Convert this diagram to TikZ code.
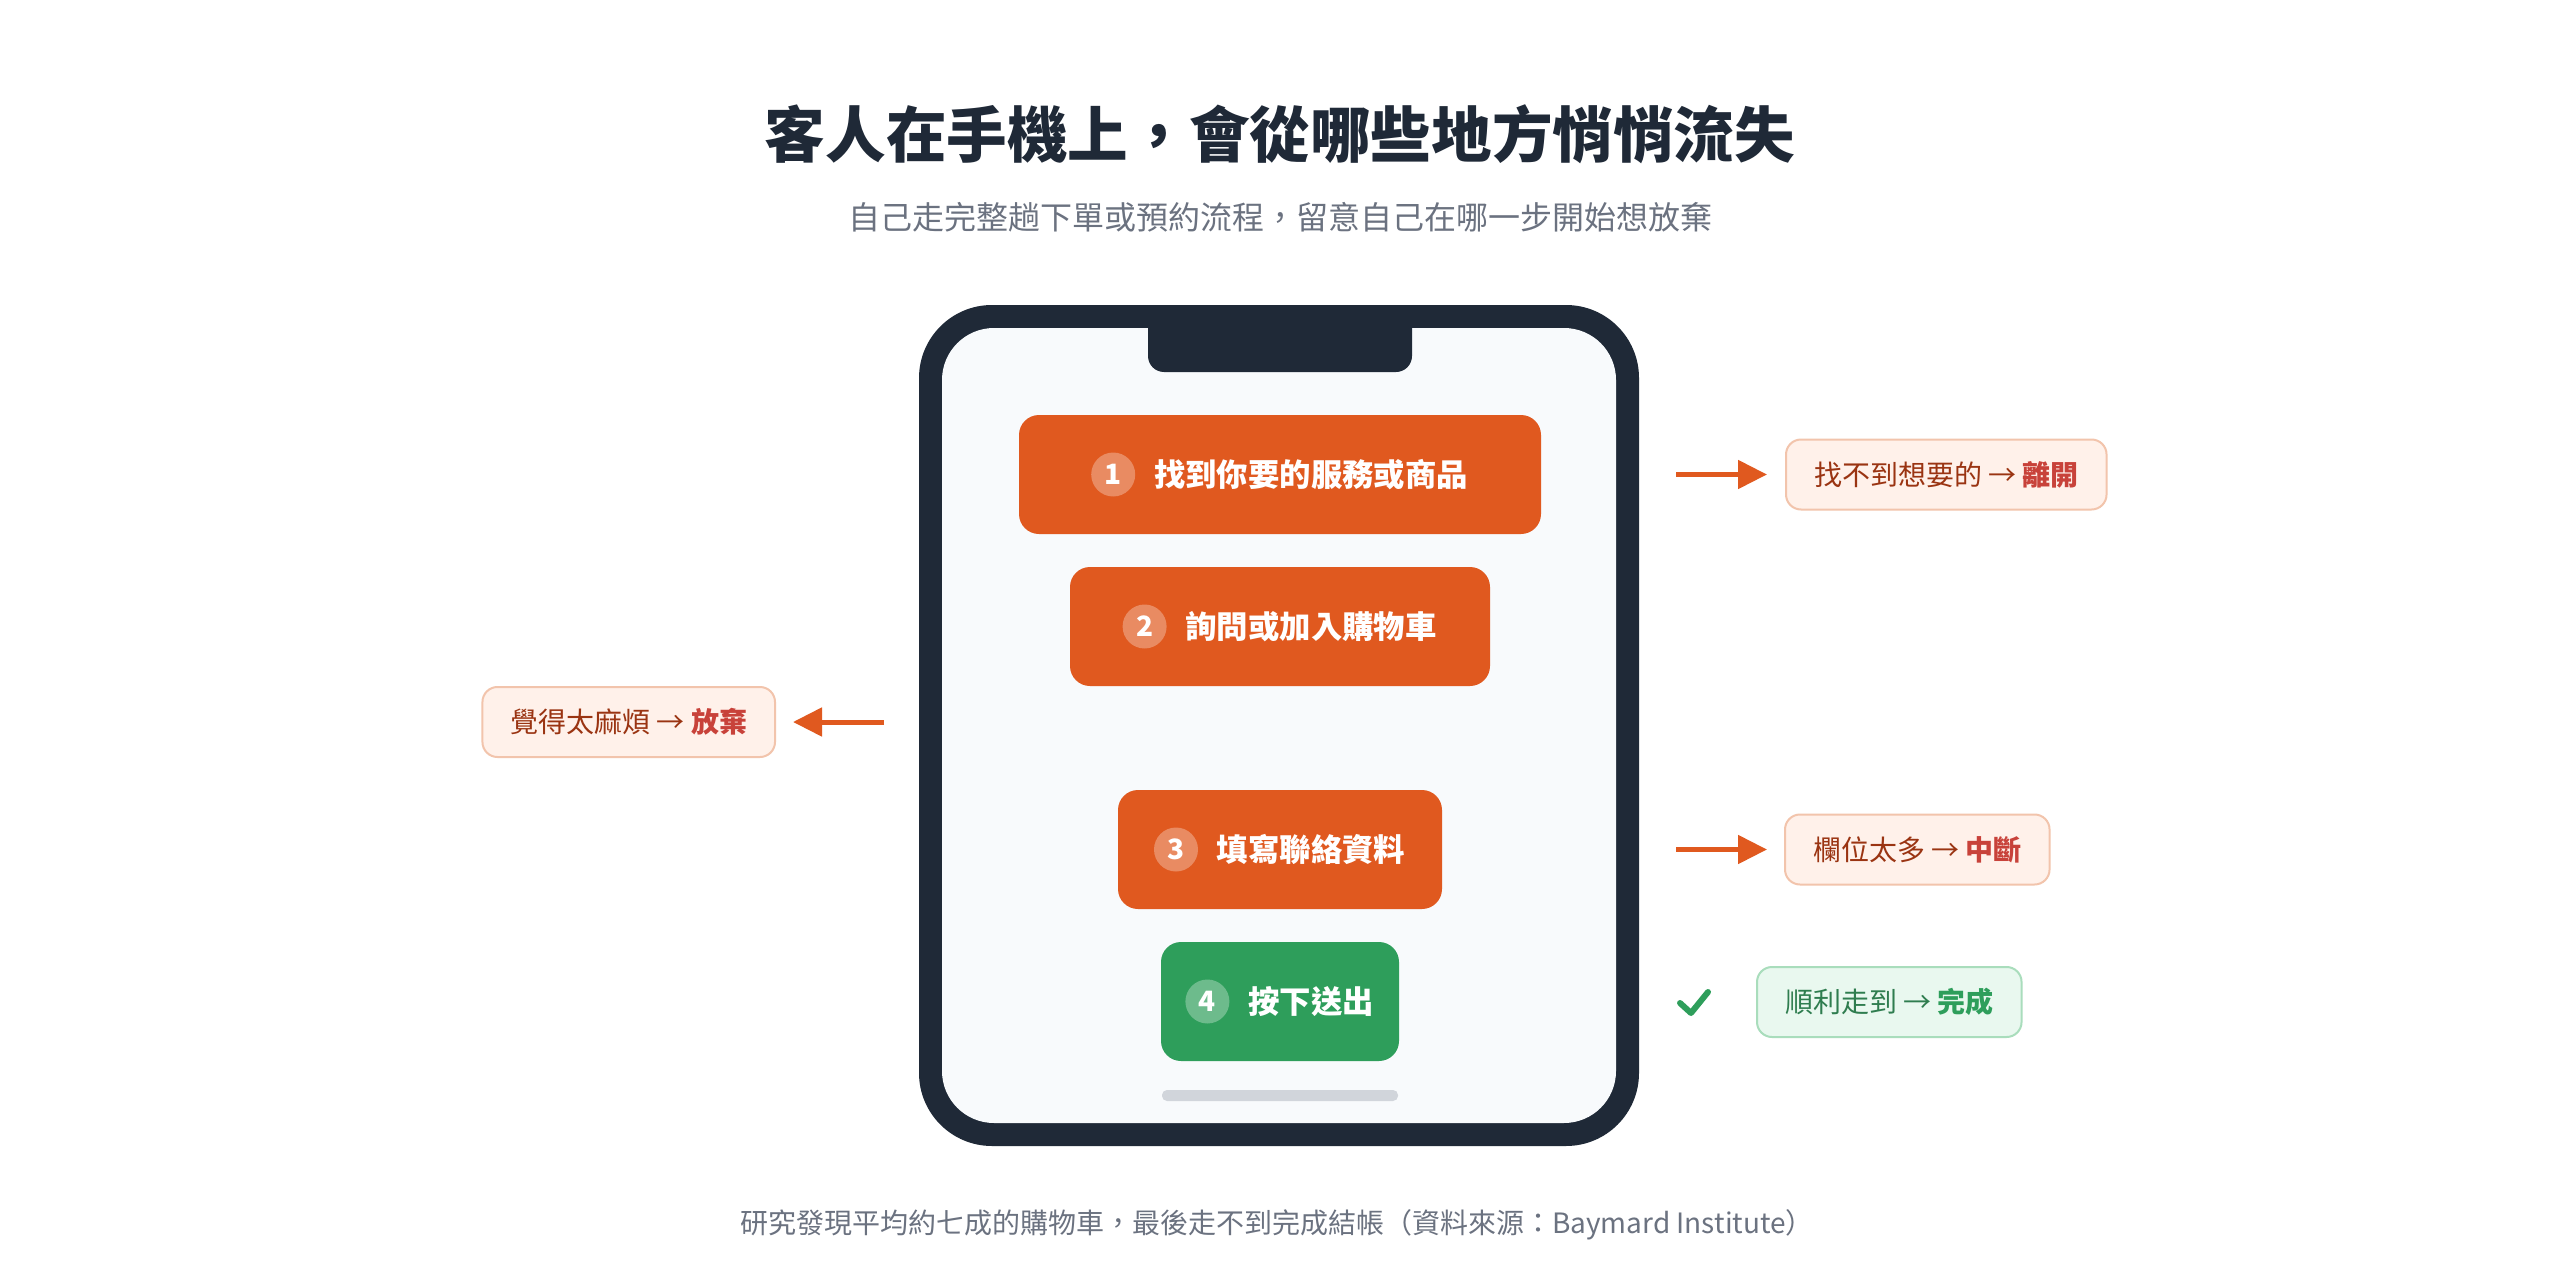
\documentclass[tikz,border=0pt]{standalone}
\usepackage{fontspec}
\setmainfont{Noto Sans CJK TC}
\usetikzlibrary{positioning,arrows.meta,calc}

\definecolor{ink}{HTML}{1F2937}
\definecolor{muted}{HTML}{6B7280}
\definecolor{screen}{HTML}{F8FAFC}
\definecolor{stepor}{HTML}{E0591F}
\definecolor{stepgr}{HTML}{2E9E5B}
\definecolor{lossfill}{HTML}{FFF1EA}
\definecolor{lossline}{HTML}{F2C4AC}
\definecolor{losstext}{HTML}{9A3412}
\definecolor{lossword}{HTML}{C8423A}
\definecolor{okfill}{HTML}{E9F8EF}
\definecolor{okline}{HTML}{A9DDBC}
\definecolor{oktext}{HTML}{2F7D4F}
\definecolor{homebar}{HTML}{D1D5DB}

\tikzset{
    stepbox/.style={rectangle, rounded corners=10pt, minimum height=59.5pt, inner sep=0pt, fill=#1},
    steptext/.style={text=white, inner sep=0pt, font=\fontsize{15.7}{18}\selectfont\bfseries},
    badge/.style={circle, fill=white, fill opacity=0.3, text opacity=1, text=white, minimum size=22pt, inner sep=0pt, font=\fontsize{14}{16}\selectfont\bfseries},
    lossbox/.style={rectangle, rounded corners=7.5pt, draw=lossline, line width=1pt, fill=lossfill, text=losstext, minimum height=35pt, inner xsep=14pt, font=\fontsize{14}{16}\selectfont},
    okbox/.style={lossbox, draw=okline, fill=okfill, text=oktext},
    lossarrow/.style={-{Triangle[length=14.5pt,width=14pt]}, draw=stepor, line width=2.5pt},
}

\begin{document}
\begin{tikzpicture}[x=0.5pt, y=-0.5pt]
    \useasboundingbox (0,0) rectangle (2560,1268);
    \fill[white] (0,0) rectangle (2560,1268);

    % heading
    \node[text=ink, font=\fontsize{30.3}{36}\selectfont\bfseries] (title) at (1280,134) {客人在手機上，會從哪些地方悄悄流失};
    \node[text=muted, font=\fontsize{16}{20}\selectfont] (subtitle) at (1280,217) {自己走完整趟下單或預約流程，留意自己在哪一步開始想放棄};

    % phone
    \fill[ink, rounded corners=36.5pt] (919,305) rectangle (1639,1146);
    \fill[screen, rounded corners=26pt] (942,328) rectangle (1616,1123);
    \fill[ink, rounded corners=8pt] (1148,312) rectangle (1412,372);
    \fill[homebar, rounded corners=2.5pt] (1162,1090) rectangle (1398,1101);

    % steps
    \foreach \i/\w/\y/\col/\txt in {1/261pt/474.5/stepor/找到你要的服務或商品,
                                    2/210pt/626.5/stepor/詢問或加入購物車,
                                    3/162pt/849.5/stepor/填寫聯絡資料,
                                    4/119pt/1001.5/stepgr/按下送出}
    {
        \node[stepbox=\col, minimum width=\w] (s\i) at (1280,\y) {};
        \node[steptext] (l\i) at ($(s\i.center)+(31,0)$) {\txt};
        \node[badge, left=9pt of l\i] (n\i) {\i};
    }

    % where they drop out
    \coordinate (t1) at (1676,474.5);
    \node[lossbox, anchor=west] (x1) at (1785,474.5) {找不到想要的 → \textbf{\color{lossword}離開}};
    \draw[lossarrow, shorten >=9pt] (t1) -- (x1);

    \coordinate (t2) at (884,722);
    \node[lossbox, anchor=east] (x2) at (776,722) {覺得太麻煩 → \textbf{\color{lossword}放棄}};
    \draw[lossarrow, shorten >=8.5pt] (t2) -- (x2);

    \coordinate (t3) at (1676,849.5);
    \node[lossbox, anchor=west] (x3) at (1784,849.5) {欄位太多 → \textbf{\color{lossword}中斷}};
    \draw[lossarrow, shorten >=8.5pt] (t3) -- (x3);

    % finished
    \draw[stepgr, line width=3pt, line cap=round, line join=round] (1680,1003) -- (1691,1013) -- (1708,992);
    \node[okbox, anchor=west] (x4) at (1756,1002) {順利走到 → \textbf{\color{stepgr}完成}};

    % source
    \node[text=muted, font=\fontsize{14}{17}\selectfont] (note) at (1277,1225) {研究發現平均約七成的購物車，最後走不到完成結帳（資料來源：Baymard Institute）};
\end{tikzpicture}
\end{document}
